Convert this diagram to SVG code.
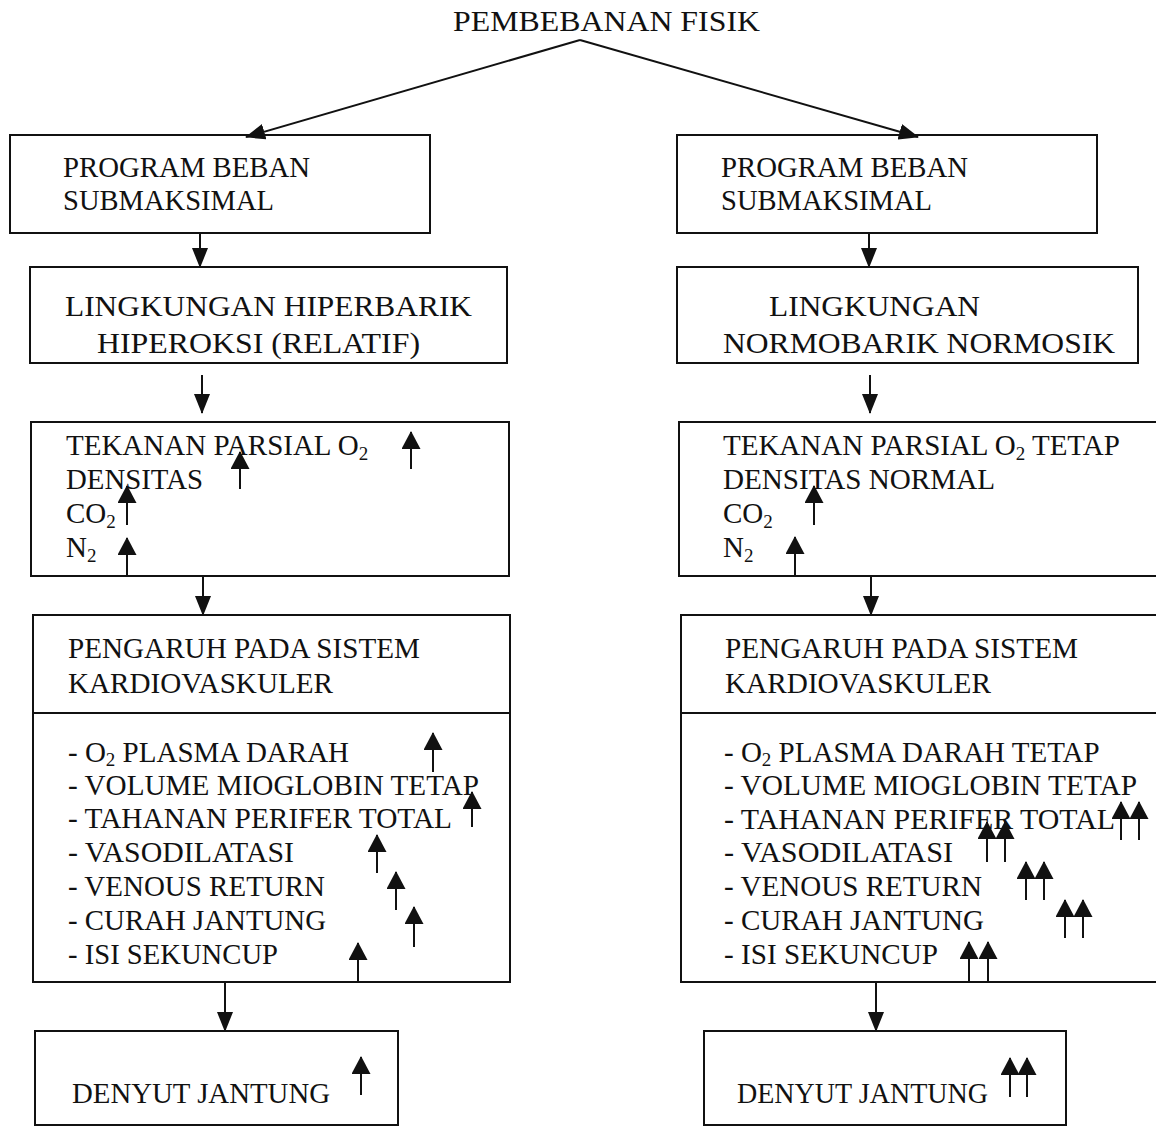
<svg xmlns="http://www.w3.org/2000/svg" width="1156" height="1127" viewBox="0 0 1156 1127">
<defs>
<style>
text{font-family:"Liberation Serif","Times New Roman",serif;font-size:29px;fill:#111}
.box{fill:none;stroke:#111;stroke-width:2}
.con{stroke:#111;stroke-width:2;fill:none;marker-end:url(#ah)}
.up{stroke:#111;stroke-width:2;fill:none;marker-end:url(#uh)}
.sub{font-size:19px}
</style>
<marker id="ah" viewBox="0 0 20 16" refX="19" refY="8" markerWidth="20" markerHeight="16" markerUnits="userSpaceOnUse" orient="auto">
<path d="M0,0 L20,8 L0,16 z" fill="#111"/>
</marker>
<marker id="uh" viewBox="0 0 18 19" refX="17" refY="9.5" markerWidth="18" markerHeight="19" markerUnits="userSpaceOnUse" orient="auto">
<path d="M0,0 L18,9.5 L0,19 z" fill="#111"/>
</marker>
</defs>
<rect width="1156" height="1127" fill="#fff"/>

<g id="title">
<text x="453" y="31" textLength="307" lengthAdjust="spacingAndGlyphs">PEMBEBANAN FISIK</text>
</g>

<g id="connectors">
<line class="con" x1="580" y1="40" x2="246" y2="137"/>
<line class="con" x1="580" y1="40" x2="918" y2="137"/>
<line class="con" x1="200" y1="233" x2="200" y2="267"/>
<line class="con" x1="869" y1="233" x2="869" y2="267"/>
<line class="con" x1="202" y1="375" x2="202" y2="413"/>
<line class="con" x1="870" y1="375" x2="870" y2="413"/>
<line class="con" x1="203" y1="576" x2="203" y2="615"/>
<line class="con" x1="871" y1="576" x2="871" y2="615"/>
<line class="con" x1="225" y1="982" x2="225" y2="1031"/>
<line class="con" x1="876" y1="982" x2="876" y2="1031"/>
</g>

<g id="left-program">
<rect class="box" x="10" y="135" width="420" height="98"/>
<text x="63" y="177" textLength="247" lengthAdjust="spacingAndGlyphs">PROGRAM BEBAN</text>
<text x="63" y="210" textLength="211" lengthAdjust="spacingAndGlyphs">SUBMAKSIMAL</text>
</g>
<g id="right-program">
<rect class="box" x="677" y="135" width="420" height="98"/>
<text x="721" y="177" textLength="247" lengthAdjust="spacingAndGlyphs">PROGRAM BEBAN</text>
<text x="721" y="210" textLength="211" lengthAdjust="spacingAndGlyphs">SUBMAKSIMAL</text>
</g>

<g id="left-lingkungan">
<rect class="box" x="30" y="267" width="477" height="96"/>
<text x="65" y="316" textLength="407" lengthAdjust="spacingAndGlyphs">LINGKUNGAN HIPERBARIK</text>
<text x="97" y="353" textLength="323" lengthAdjust="spacingAndGlyphs">HIPEROKSI (RELATIF)</text>
</g>
<g id="right-lingkungan">
<rect class="box" x="677" y="267" width="461" height="96"/>
<text x="769" y="316" textLength="211" lengthAdjust="spacingAndGlyphs">LINGKUNGAN</text>
<text x="723" y="353" textLength="392" lengthAdjust="spacingAndGlyphs">NORMOBARIK NORMOSIK</text>
</g>

<g id="left-tekanan">
<rect class="box" x="31" y="422" width="478" height="154"/>
<text x="66" y="455">TEKANAN PARSIAL O<tspan class="sub" dy="5">2</tspan></text>
<text x="66" y="489" textLength="137" lengthAdjust="spacingAndGlyphs">DENSITAS</text>
<text x="66" y="523">CO<tspan class="sub" dy="5">2</tspan></text>
<text x="66" y="557">N<tspan class="sub" dy="5">2</tspan></text>
<line class="up" x1="411" y1="469" x2="411" y2="432"/>
<line class="up" x1="240" y1="489" x2="240" y2="452"/>
<line class="up" x1="127" y1="525" x2="127" y2="486"/>
<line class="up" x1="127" y1="576" x2="127" y2="538"/>
</g>
<g id="right-tekanan">
<rect class="box" x="679" y="422" width="490" height="154"/>
<text x="723" y="455">TEKANAN PARSIAL O<tspan class="sub" dy="5">2</tspan><tspan dy="-5"> TETAP</tspan></text>
<text x="723" y="489" textLength="272" lengthAdjust="spacingAndGlyphs">DENSITAS NORMAL</text>
<text x="723" y="523">CO<tspan class="sub" dy="5">2</tspan></text>
<text x="723" y="557">N<tspan class="sub" dy="5">2</tspan></text>
<line class="up" x1="814" y1="525" x2="814" y2="486"/>
<line class="up" x1="795" y1="576" x2="795" y2="537"/>
</g>

<g id="left-pengaruh">
<rect class="box" x="33" y="615" width="477" height="367"/>
<line class="box" x1="33" y1="713" x2="510" y2="713"/>
<text x="68" y="658" textLength="352" lengthAdjust="spacingAndGlyphs">PENGARUH PADA SISTEM</text>
<text x="68" y="693" textLength="265" lengthAdjust="spacingAndGlyphs">KARDIOVASKULER</text>
<text x="68" y="762">- O<tspan class="sub" dy="4">2</tspan><tspan dy="-4"> PLASMA DARAH</tspan></text>
<text x="68" y="795" textLength="411" lengthAdjust="spacingAndGlyphs">- VOLUME MIOGLOBIN TETAP</text>
<text x="68" y="828" textLength="384" lengthAdjust="spacingAndGlyphs">- TAHANAN PERIFER TOTAL</text>
<text x="68" y="862" textLength="226" lengthAdjust="spacingAndGlyphs">- VASODILATASI</text>
<text x="68" y="896" textLength="257" lengthAdjust="spacingAndGlyphs">- VENOUS RETURN</text>
<text x="68" y="930" textLength="258" lengthAdjust="spacingAndGlyphs">- CURAH JANTUNG</text>
<text x="68" y="964" textLength="210" lengthAdjust="spacingAndGlyphs">- ISI SEKUNCUP</text>
<line class="up" x1="433" y1="772" x2="433" y2="733"/>
<line class="up" x1="472" y1="827" x2="472" y2="792"/>
<line class="up" x1="377" y1="873" x2="377" y2="835"/>
<line class="up" x1="396" y1="910" x2="396" y2="872"/>
<line class="up" x1="414" y1="947" x2="414" y2="907"/>
<line class="up" x1="358" y1="982" x2="358" y2="943"/>
</g>
<g id="right-pengaruh">
<rect class="box" x="681" y="615" width="490" height="367"/>
<line class="box" x1="681" y1="713" x2="1156" y2="713"/>
<text x="725" y="658" textLength="353" lengthAdjust="spacingAndGlyphs">PENGARUH PADA SISTEM</text>
<text x="725" y="693" textLength="266" lengthAdjust="spacingAndGlyphs">KARDIOVASKULER</text>
<text x="724" y="762">- O<tspan class="sub" dy="4">2</tspan><tspan dy="-4"> PLASMA DARAH TETAP</tspan></text>
<text x="724" y="795" textLength="413" lengthAdjust="spacingAndGlyphs">- VOLUME MIOGLOBIN TETAP</text>
<text x="724" y="829" textLength="391" lengthAdjust="spacingAndGlyphs">- TAHANAN PERIFER TOTAL</text>
<text x="724" y="862" textLength="229" lengthAdjust="spacingAndGlyphs">- VASODILATASI</text>
<text x="724" y="896" textLength="258" lengthAdjust="spacingAndGlyphs">- VENOUS RETURN</text>
<text x="724" y="930" textLength="260" lengthAdjust="spacingAndGlyphs">- CURAH JANTUNG</text>
<text x="724" y="964" textLength="214" lengthAdjust="spacingAndGlyphs">- ISI SEKUNCUP</text>
<line class="up" x1="1121" y1="840" x2="1121" y2="802"/>
<line class="up" x1="1139" y1="840" x2="1139" y2="802"/>
<line class="up" x1="987" y1="862" x2="987" y2="822"/>
<line class="up" x1="1005" y1="862" x2="1005" y2="822"/>
<line class="up" x1="1026" y1="900" x2="1026" y2="862"/>
<line class="up" x1="1044" y1="900" x2="1044" y2="862"/>
<line class="up" x1="1065" y1="938" x2="1065" y2="900"/>
<line class="up" x1="1083" y1="938" x2="1083" y2="900"/>
<line class="up" x1="969" y1="982" x2="969" y2="942"/>
<line class="up" x1="988" y1="982" x2="988" y2="942"/>
</g>

<g id="left-denyut">
<rect class="box" x="35" y="1031" width="363" height="94"/>
<text x="72" y="1103" textLength="258" lengthAdjust="spacingAndGlyphs">DENYUT JANTUNG</text>
<line class="up" x1="361" y1="1095" x2="361" y2="1057"/>
</g>
<g id="right-denyut">
<rect class="box" x="704" y="1031" width="362" height="94"/>
<text x="737" y="1103" textLength="251" lengthAdjust="spacingAndGlyphs">DENYUT JANTUNG</text>
<line class="up" x1="1010" y1="1097" x2="1010" y2="1058"/>
<line class="up" x1="1027" y1="1097" x2="1027" y2="1058"/>
</g>
</svg>
